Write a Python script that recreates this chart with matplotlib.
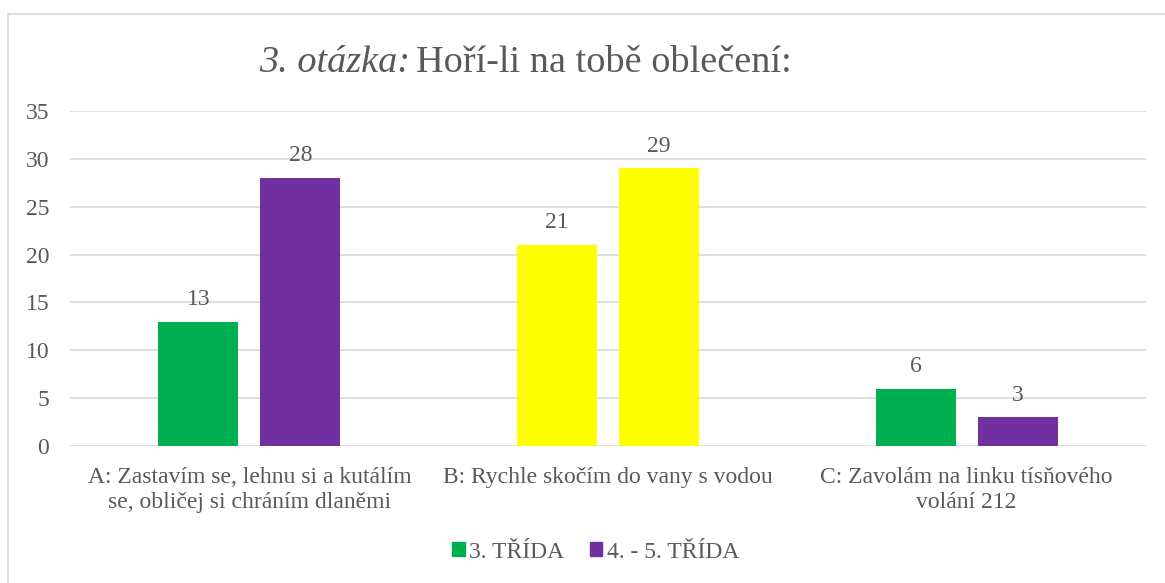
import matplotlib
matplotlib.use("Agg")
import matplotlib.pyplot as plt
import matplotlib.patches as mpatches
import numpy as np

categories = ["A: Zastavím se, lehnu si a kutálím\nse, obličej si chráním dlaněmi",
              "B: Rychle skočím do vany s vodou",
              "C: Zavolám na linku tísňového\nvolání 212"]
series_names = ["3. TŘÍDA", "4. - 5. TŘÍDA"]
values_3 = [13, 21, 6]
values_45 = [28, 29, 3]
colors_3 = ["#00B050", "#FFFF00", "#00B050"]
colors_45 = ["#7030A0", "#FFFF00", "#7030A0"]
yticks = [0, 5, 10, 15, 20, 25, 30, 35]

plt.rcParams['font.family'] = ['Liberation Serif', 'DejaVu Serif']
txt = "#595959"
grid = "#D9D9D9"
fs = 17

W, H = 1165, 583
fig = plt.figure(figsize=(W/100, H/100), dpi=100)
ax = fig.add_axes([70/W, 1-446/H, (1146-70)/W, (446-111)/H])

x = np.arange(len(categories))
bw = 0.223
off = 0.142
b1 = ax.bar(x - off, values_3, bw, color=colors_3, zorder=3)
b2 = ax.bar(x + off, values_45, bw, color=colors_45, zorder=3)
for bars, vals in ((b1, values_3), (b2, values_45)):
    for r, v in zip(bars, vals):
        ax.text(r.get_x() + r.get_width()/2, v + 1.75, str(v), ha='center', va='baseline',
                fontsize=fs, color=txt)

ax.set_xlim(-0.5, 2.5)
ax.set_ylim(0, 35)
ax.set_yticks(yticks)
ax.yaxis.grid(True, color=grid, lw=1.2, zorder=0)
for s in ax.spines.values():
    s.set_visible(False)
ax.tick_params(axis='y', length=0, pad=15, labelsize=fs, labelcolor=txt)
ax.tick_params(axis='x', length=0, pad=15, labelsize=fs, labelcolor=txt)
ax.set_xticks(x)
ax.set_xticklabels(categories, linespacing=1.25)
ax.set_facecolor('none')

# title
ty = 1 - 63/H
fig.text(410/W, ty, "3. otázka:", ha='right', va='center', fontsize=27.5, style='italic', color=txt)
fig.text(416/W, ty, "Hoří-li na tobě oblečení:", ha='left', va='center', fontsize=27.5, color=txt)

# legend
handles = [mpatches.Patch(color="#00B050", label=series_names[0]),
           mpatches.Patch(color="#7030A0", label=series_names[1])]
leg = fig.legend(handles=handles, loc='center', bbox_to_anchor=(596/W, 1-552/H), ncol=2,
                 frameon=False, fontsize=fs, handlelength=0.51, handleheight=0.51,
                 handletextpad=0.2, columnspacing=1.1, borderpad=0)
for t in leg.get_texts():
    t.set_color(txt)

# chart frame
fig.patches.append(mpatches.Rectangle((8/W, -0.1), 1.2, 1 - 14/H + 0.1, transform=fig.transFigure,
                                      fill=False, edgecolor=grid, lw=1.2, clip_on=False))

fig.savefig("out.png", dpi=100, facecolor='white')
